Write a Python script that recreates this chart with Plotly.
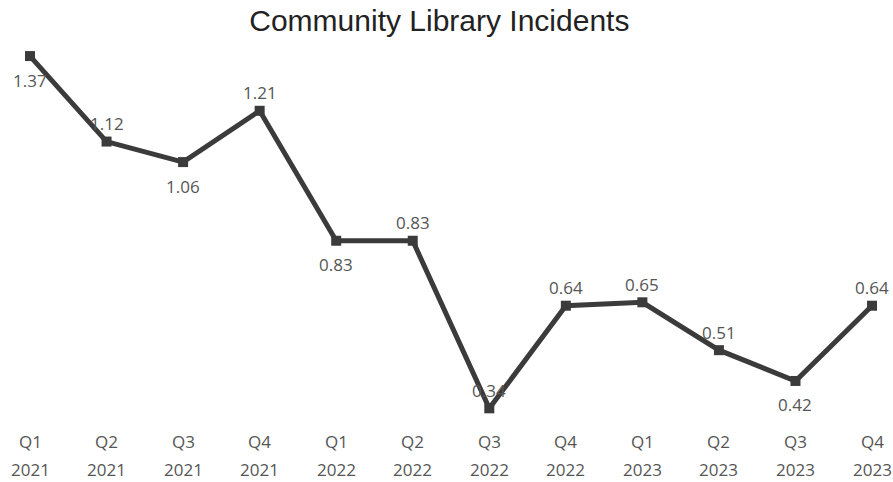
import plotly.graph_objects as go

# Quarterly incident rate
quarter_names = ["Q1", "Q2", "Q3", "Q4", "Q1", "Q2", "Q3", "Q4", "Q1", "Q2", "Q3", "Q4"]
years = ["2021", "2021", "2021", "2021", "2022", "2022", "2022", "2022", "2023", "2023", "2023", "2023"]
incidents = [1.37, 1.12, 1.06, 1.21, 0.83, 0.83, 0.34, 0.64, 0.65, 0.51, 0.42, 0.64]
label_below = [True, False, True, False, True, False, False, False, False, False, True, False]

categories = [f"{q} {y}" for q, y in zip(quarter_names, years)]

fig = go.Figure(
    go.Scatter(
        x=categories,
        y=incidents,
        mode="lines+markers",
        line=dict(color="#3b3b3b", width=5),
        marker=dict(symbol="square", size=10, color="#3b3b3b"),
        cliponaxis=False,
        hoverinfo="skip",
    )
)

label_font = dict(family="Open Sans", size=17, color="#555555")

# value labels, above or below each point
for cat, val, below in zip(categories, incidents, label_below):
    fig.add_annotation(
        x=cat, y=val, xref="x", yref="y",
        text=f"{val:.2f}", showarrow=False,
        yanchor="middle", yshift=-24 if below else 18,
        font=label_font,
    )

# two-line category labels under the plot
for cat, q, yr in zip(categories, quarter_names, years):
    fig.add_annotation(
        x=cat, y=0, xref="x", yref="paper", text=q, showarrow=False,
        yanchor="middle", yshift=-19, font=label_font,
    )
    fig.add_annotation(
        x=cat, y=0, xref="x", yref="paper", text=yr, showarrow=False,
        yanchor="middle", yshift=-47, font=label_font,
    )

fig.update_layout(
    width=893,
    height=482,
    margin=dict(l=0, r=0, t=40, b=60),
    paper_bgcolor="white",
    plot_bgcolor="white",
    showlegend=False,
    title=dict(
        text="Community Library Incidents",
        x=0.492,
        xanchor="center",
        y=0.958,
        yanchor="middle",
        font=dict(family="Liberation Sans, Arial", size=30, color="#222222"),
    ),
    xaxis=dict(
        type="category",
        range=[-0.392, 11.274],
        showgrid=False,
        zeroline=False,
        showline=False,
        showticklabels=False,
        ticks="",
    ),
    yaxis=dict(
        range=[0.30, 1.417],
        visible=False,
    ),
)

fig.write_html("out.html")
